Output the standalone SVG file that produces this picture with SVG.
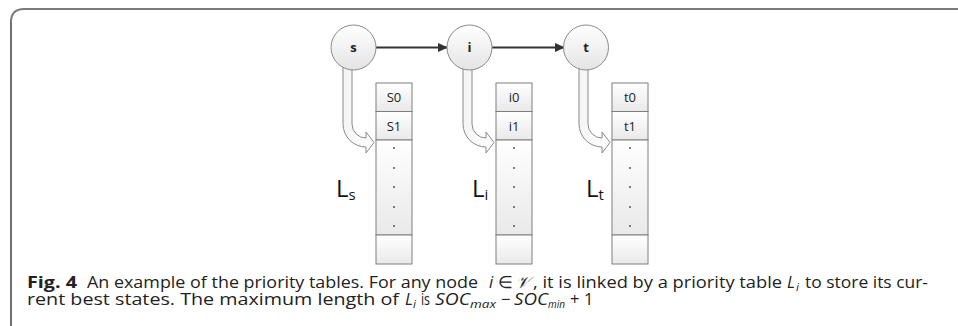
<svg xmlns="http://www.w3.org/2000/svg" width="958" height="326" viewBox="0 0 958 326">
<defs>
<linearGradient id="gCell" x1="0" y1="0" x2="0" y2="1"><stop offset="0" stop-color="#ffffff"/><stop offset="1" stop-color="#e9e9e9"/></linearGradient>
<linearGradient id="gNode" x1="0" y1="0" x2="0" y2="1"><stop offset="0" stop-color="#ffffff"/><stop offset="1" stop-color="#e4e4e4"/></linearGradient>
<linearGradient id="gArr" x1="0" y1="0" x2="1" y2="0"><stop offset="0" stop-color="#f4f4f4"/><stop offset="1" stop-color="#ffffff"/></linearGradient>
<marker id="ah" markerWidth="10" markerHeight="10" refX="9" refY="5" orient="auto" markerUnits="userSpaceOnUse"><path d="M0,0.5 L10,5 L0,9.5 Z" fill="#333"/></marker>
<path id="curv" d="M-33,62 L-33,124 A23,23 0 0 0 -10,147 L-10,153 L-2,142.5 L-10,132 L-10,138 A14,14 0 0 1 -24,124 L-24,62 Z"/>
</defs>
<style>
.frame-top{fill:none;stroke:#7a7a7a;stroke-width:2}
.frame-left{fill:none;stroke:#111;stroke-width:1.2}
.node circle{fill:url(#gNode);stroke:#8a8a8a;stroke-width:1}
.node text{font-family:"Open Sans","Liberation Sans",sans-serif;font-weight:bold;font-size:13px;fill:#222;text-anchor:middle}
.cell{fill:url(#gCell);stroke:#7f7f7f;stroke-width:1}
.ctext{font-family:"Open Sans","Liberation Sans",sans-serif;font-size:13px;fill:#222;text-anchor:middle}
.dot{fill:#444}
.edge{stroke:#333;stroke-width:2;fill:none}
.curved{fill:url(#gArr);stroke:#8a8a8a;stroke-width:1}
.lab{font-family:"Open Sans","Liberation Sans",sans-serif;font-size:24px;fill:#111}
.cap text{font-family:"Open Sans","Liberation Sans",sans-serif;font-size:16.5px;fill:#222}
.cap .it{font-style:italic}
.cap .sub{font-style:italic;font-size:11.5px}
</style>
<path class="frame-top" d="M11,22 Q11,9 24,9 L958,9"/>
<path class="frame-left" d="M11,326 L11,22"/>

<g id="connectors">
<line class="edge" x1="376" y1="47.5" x2="447" y2="47.5" marker-end="url(#ah)"/>
<line class="edge" x1="492" y1="47.5" x2="564" y2="47.5" marker-end="url(#ah)"/>
<use href="#curv" class="curved" transform="translate(376,0)"/>
<use href="#curv" class="curved" transform="translate(496,0)"/>
<use href="#curv" class="curved" transform="translate(612,0)"/>
</g>

<g id="node-s" class="node"><circle cx="353.5" cy="47.5" r="22.5"/><text x="353.5" y="52">s</text></g>
<g id="node-i" class="node"><circle cx="469.5" cy="47.5" r="22.5"/><text x="469.5" y="52">i</text></g>
<g id="node-t" class="node"><circle cx="586" cy="47.5" r="22.5"/><text x="586" y="52">t</text></g>

<g id="table-s">
<rect class="cell" x="376" y="83" width="36" height="28.5"/>
<rect class="cell" x="376" y="111.5" width="36" height="28.5"/>
<rect class="cell" x="376" y="140" width="36" height="95"/>
<rect class="cell" x="376" y="235" width="36" height="29"/>
<text class="ctext" x="394" y="102">S0</text>
<text class="ctext" x="394" y="130.5">S1</text>
<circle class="dot" cx="394" cy="148" r="0.9"/><circle class="dot" cx="394" cy="168" r="0.9"/><circle class="dot" cx="394" cy="187" r="0.9"/><circle class="dot" cx="394" cy="207" r="0.9"/><circle class="dot" cx="394" cy="226" r="0.9"/>
</g>
<g id="table-i">
<rect class="cell" x="496" y="83" width="36" height="28.5"/>
<rect class="cell" x="496" y="111.5" width="36" height="28.5"/>
<rect class="cell" x="496" y="140" width="36" height="95"/>
<rect class="cell" x="496" y="235" width="36" height="29"/>
<text class="ctext" x="514" y="102">i0</text>
<text class="ctext" x="514" y="130.5">i1</text>
<circle class="dot" cx="514" cy="148" r="0.9"/><circle class="dot" cx="514" cy="168" r="0.9"/><circle class="dot" cx="514" cy="187" r="0.9"/><circle class="dot" cx="514" cy="207" r="0.9"/><circle class="dot" cx="514" cy="226" r="0.9"/>
</g>
<g id="table-t">
<rect class="cell" x="612" y="83" width="36" height="28.5"/>
<rect class="cell" x="612" y="111.5" width="36" height="28.5"/>
<rect class="cell" x="612" y="140" width="36" height="95"/>
<rect class="cell" x="612" y="235" width="36" height="29"/>
<text class="ctext" x="630" y="102">t0</text>
<text class="ctext" x="630" y="130.5">t1</text>
<circle class="dot" cx="630" cy="148" r="0.9"/><circle class="dot" cx="630" cy="168" r="0.9"/><circle class="dot" cx="630" cy="187" r="0.9"/><circle class="dot" cx="630" cy="207" r="0.9"/><circle class="dot" cx="630" cy="226" r="0.9"/>
</g>

<g id="labels">
<text class="lab" x="336" y="197">L<tspan font-size="15" dy="3">s</tspan></text>
<text class="lab" x="472" y="197">L<tspan font-size="15" dy="3">i</tspan></text>
<text class="lab" x="586" y="197">L<tspan font-size="15" dy="3">t</tspan></text>
</g>

<g id="caption" class="cap">
<text x="27" y="288" font-weight="bold" textLength="50" lengthAdjust="spacingAndGlyphs">Fig. 4</text>
<text x="87" y="288" textLength="391" lengthAdjust="spacingAndGlyphs">An example of the priority tables. For any node</text>
<text x="489" y="288" class="it">i</text>
<text x="498" y="288">∈</text>
<text x="516" y="288" class="it" font-family="'Liberation Serif',serif">𝒱</text>
<text x="533" y="288" textLength="249" lengthAdjust="spacingAndGlyphs">, it is linked by a priority table</text>
<text x="787" y="288" class="it">L</text>
<text x="796" y="291" class="sub">i</text>
<text x="805" y="288" textLength="123" lengthAdjust="spacingAndGlyphs">to store its cur-</text>
<text x="27" y="305" textLength="372" lengthAdjust="spacingAndGlyphs">rent best states. The maximum length of</text>
<text x="405" y="305" class="it">L</text>
<text x="413" y="308" class="sub">i</text>
<text x="421" y="305" textLength="9" lengthAdjust="spacingAndGlyphs">is</text>
<text x="435" y="305" class="it" textLength="35" lengthAdjust="spacingAndGlyphs">SOC</text>
<text x="470" y="308" class="sub" textLength="26" lengthAdjust="spacingAndGlyphs">max</text>
<text x="501" y="305">−</text>
<text x="514" y="305" class="it" textLength="34" lengthAdjust="spacingAndGlyphs">SOC</text>
<text x="548" y="308" class="sub" textLength="17" lengthAdjust="spacingAndGlyphs">min</text>
<text x="570" y="305">+</text>
<text x="584" y="305">1</text>
</g>
</svg>
